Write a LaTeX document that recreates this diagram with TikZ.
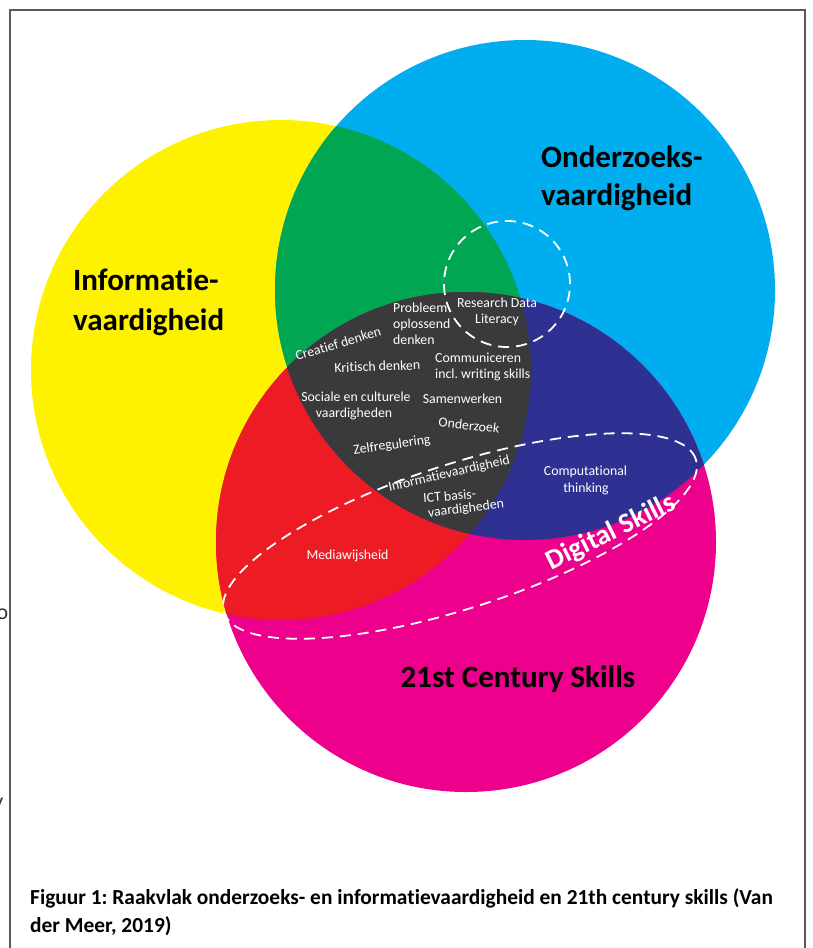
\documentclass[tikz,border=0pt]{standalone}
\usepackage{fontspec}
\setmainfont{Carlito}[Ligatures=NoCommon]
\frenchspacing
\definecolor{cyel}{HTML}{FFF200}
\definecolor{cblue}{HTML}{00AEEF}
\definecolor{cmag}{HTML}{EC008C}
\definecolor{cgreen}{HTML}{00A651}
\definecolor{cred}{HTML}{ED1C24}
\definecolor{cnavy}{HTML}{2E3192}
\definecolor{cdark}{HTML}{3A3A3C}
\definecolor{cframe}{HTML}{595959}
\begin{document}
\begin{tikzpicture}[x=1pt,y=-1pt,
  bigtxt/.style={font=\fontsize{31}{37}\selectfont\bfseries, text=black, inner sep=0pt},
  smalltxt/.style={font=\fontsize{13.8}{16}\selectfont, text=white, inner sep=0pt},
  captxt/.style={font=\fontsize{21.4}{25}\selectfont\bfseries, text=black, inner sep=0pt, anchor=base west},
  bgtxt/.style={font=\fontsize{22}{26}\selectfont, text=black!80, inner sep=0pt, anchor=base east},
  dashwhite/.style={draw=white, line width=1.8pt, dash pattern=on 11pt off 7pt},
]
\clip (0,0) rectangle (812,948);
\fill[white] (0,0) rectangle (812,948);
% frame
\draw[cframe, line width=1.5pt] (10,960) -- (10,10) -- (805,10) -- (805,960);
\node[bgtxt] (frag1) at (8.5,619) {o};
\node[bgtxt] (frag2) at (3.5,808) {y};
% circles
\coordinate (Y) at (281,370);
\coordinate (B) at (525,290);
\coordinate (M) at (466,542);
\fill[cyel] (Y) circle (250pt);
\fill[cblue] (B) circle (250pt);
\fill[cmag] (M) circle (250pt);
\begin{scope}
  \clip (Y) circle (250pt);
  \fill[cgreen] (B) circle (250pt);
  \fill[cred] (M) circle (250pt);
\end{scope}
\begin{scope}
  \clip (B) circle (250pt);
  \fill[cnavy] (M) circle (250pt);
  \clip (Y) circle (250pt);
  \fill[cdark] (M) circle (250pt);
\end{scope}
% dashed shapes
\coordinate (RD) at (507,284);
\draw[dashwhite] (RD) circle (63pt);
\coordinate (DS) at (460,536);
\begin{scope}[shift={(DS)}, rotate=18]
  \draw[dashwhite] (0,0) ellipse [x radius=248pt, y radius=72pt];
\end{scope}
% big labels
\node[bigtxt, anchor=base west] (on1) at (541,167) {Onderzoeks-};
\node[bigtxt, anchor=base west] (on2) at (541,205) {vaardigheid};
\node[bigtxt, anchor=base west] (in1) at (73,290) {Informatie-};
\node[bigtxt, anchor=base west] (in2) at (73,330) {vaardigheid};
\node[bigtxt, anchor=base] (cs) at (518,687) {21st Century Skills};
\node[font=\fontsize{28}{32}\selectfont\bfseries, text=white, inner sep=0pt, anchor=base, rotate=26.4] (dig) at (614.5,539.5) {Digital Skills};
% small labels
\node[smalltxt, anchor=base west] (p1) at (393,312) {Probleem};
\node[smalltxt, anchor=base west] (p2) at (393,328) {oplossend};
\node[smalltxt, anchor=base west] (p3) at (393,344) {denken};
\node[smalltxt, anchor=base] (r1) at (497,307) {Research Data};
\node[smalltxt, anchor=base] (r2) at (497,323) {Literacy};
\node[smalltxt, anchor=base, rotate=17] (cd) at (339.5,348) {Creatief denken};
\node[smalltxt, anchor=base, rotate=2] (kd) at (377.5,371) {Kritisch denken};
\node[smalltxt, anchor=base west] (c1) at (435,362) {Communiceren};
\node[smalltxt, anchor=base west] (c2) at (435,378) {incl. writing skills};
\node[smalltxt, anchor=base] (s1) at (356,401) {Sociale en culturele};
\node[smalltxt, anchor=base] (s2) at (354,417) {vaardigheden};
\node[smalltxt, anchor=base] (sw) at (462.5,403) {Samenwerken};
\node[smalltxt, anchor=base, rotate=-6] (oz) at (468.5,430) {Onderzoek};
\node[smalltxt, anchor=base, rotate=8] (zr) at (392.5,449) {Zelfregulering};
\node[smalltxt, anchor=base, rotate=13] (iv) at (450,477.5) {Informatievaardigheid};
\node[smalltxt, anchor=base, rotate=5] (ict1) at (450,500.5) {ICT basis-};
\node[smalltxt, anchor=base, rotate=7] (ict2) at (466.5,512.5) {vaardigheden};
\node[smalltxt, anchor=base] (ct1) at (585.5,475) {Computational};
\node[smalltxt, anchor=base] (ct2) at (586,492) {thinking};
\node[smalltxt, anchor=base] (mw) at (347.5,559) {Mediawijsheid};
% caption
\node[captxt] (cap1) at (30,904) {Figuur 1: Raakvlak onderzoeks- en informatievaardigheid en 21th century skills (Van};
\node[captxt] (cap2) at (30,932) {der Meer, 2019)};
\end{tikzpicture}
\end{document}
